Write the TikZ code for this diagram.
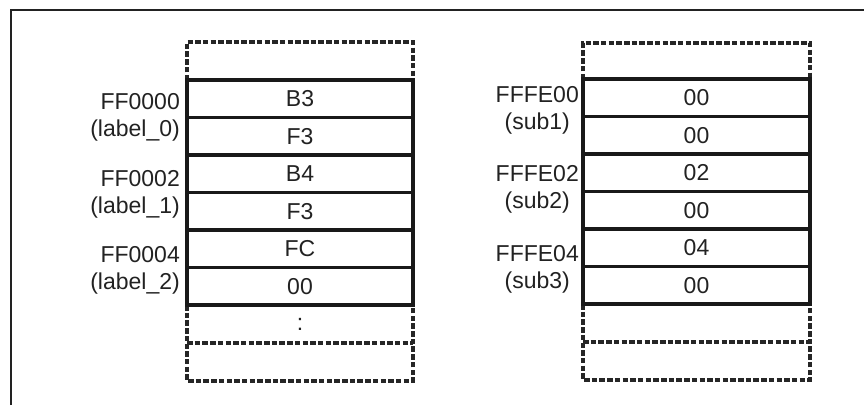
\documentclass[tikz,border=0pt]{standalone}
\usepackage{fontspec}
\setmainfont{Liberation Sans}
\definecolor{ink}{HTML}{222222}
\begin{document}
\begin{tikzpicture}[x=1pt,y=-1pt,
  every node/.style={font=\fontsize{23}{27}\selectfont, text=ink},
  cell/.style={draw=black!90, line width=3.2pt, minimum height=37.5pt, inner sep=0pt},
  dcell/.style={minimum height=38pt, inner sep=0pt, outer sep=0pt},
  dline/.style={draw=black!85, line width=3.4pt, dash pattern=on 5.5pt off 2.2pt},
  lbl/.style={align=right, anchor=east, inner sep=0pt},
  rlbl/.style={align=center, anchor=east, inner sep=0pt},
  frame/.style={draw=ink, line width=2.4pt}]
\useasboundingbox (0,0) rectangle (864,405);
\coordinate (fa) at (11,405);
\coordinate (fb) at (11,10);
\coordinate (fc) at (864,10);
\draw[frame] (fa) -- (fb) -- (fc);
% left column dashed
\node[dcell, minimum width=226pt] (LT) at (300,61) {};
\node[dcell, minimum width=226pt] (LD1) at (300,324) {:};
\node[dcell, minimum width=226pt] (LD2) at (300,362) {};
\draw[dline] (LT.south west) -- (LT.north west) -- (LT.north east) -- (LT.south east);
\draw[dline] (LD1.north west) -- (LD2.south west) -- (LD2.south east) -- (LD1.north east);
\draw[dline] (LD1.south west) -- (LD1.south east);
% left column solid
\node[cell, minimum width=226pt] (L1) at (300,98.75) {B3};
\node[cell, minimum width=226pt] (L2) at (300,136.25) {F3};
\node[cell, minimum width=226pt] (L3) at (300,173.75) {B4};
\node[cell, minimum width=226pt] (L4) at (300,211.25) {F3};
\node[cell, minimum width=226pt] (L5) at (300,248.75) {FC};
\node[cell, minimum width=226pt] (L6) at (300,286.25) {00};
% right column dashed
\node[dcell, minimum width=227pt, minimum height=36pt] (RT) at (696.5,61) {};
\node[dcell, minimum width=227pt] (RD1) at (696.5,323) {};
\node[dcell, minimum width=227pt] (RD2) at (696.5,361) {};
\draw[dline] (RT.south west) -- (RT.north west) -- (RT.north east) -- (RT.south east);
\draw[dline] (RD1.north west) -- (RD2.south west) -- (RD2.south east) -- (RD1.north east);
\draw[dline] (RD1.south west) -- (RD1.south east);
% right column solid
\node[cell, minimum width=227pt] (R1) at (696.5,97.75) {00};
\node[cell, minimum width=227pt] (R2) at (696.5,135.25) {00};
\node[cell, minimum width=227pt] (R3) at (696.5,172.75) {02};
\node[cell, minimum width=227pt] (R4) at (696.5,210.25) {00};
\node[cell, minimum width=227pt] (R5) at (696.5,247.75) {04};
\node[cell, minimum width=227pt] (R6) at (696.5,285.25) {00};
% left labels
\node[lbl] (A0) at (180,117) {FF0000\\(label\_0)};
\node[lbl] (A1) at (180,194.5) {FF0002\\(label\_1)};
\node[lbl] (A2) at (180,270) {FF0004\\(label\_2)};
% right labels
\node[rlbl] (S1) at (579,110.5) {FFFE00\\(sub1)};
\node[rlbl] (S2) at (579,189.5) {FFFE02\\(sub2)};
\node[rlbl] (S3) at (579,269.5) {FFFE04\\(sub3)};
\end{tikzpicture}
\end{document}
